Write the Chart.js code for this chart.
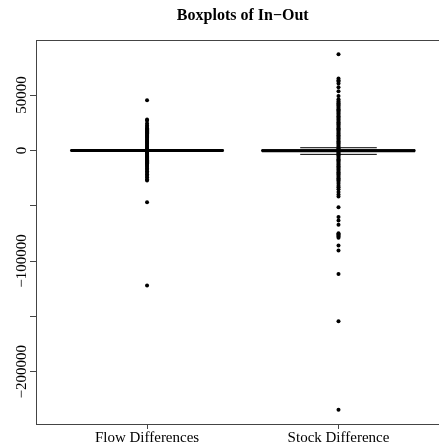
<!DOCTYPE html>
<html>
<head>
<meta charset="utf-8">
<script src="https://cdn.jsdelivr.net/npm/chart.js@4.4.0/dist/chart.umd.min.js"></script>
<style>
  body { margin: 0; background: #fff; }
  #grafico { display: block; }
</style>
</head>
<body>
<canvas id="grafico" width="439" height="444"></canvas>
<script>
const categorias = ['Flow Differences', 'Stock Difference'];

// estatisticas das caixas
const bigodeInferior = [-500, -3600];
const quartil1 = [-150, -900];
const mediana = [0, -300];
const quartil3 = [150, 600];
const bigodeSuperior = [500, 2400];

// pontos individuais de cada grupo
const pontosFlow = [45300, 28000, 26800, 24400, 22600, 21100, 20100, 19200, 18200, 17300, 16300,
  15400, 14400, 13500, 12500, 11600, 10600, 9700, 8700, 7800, 6800, 5900, 4900, 4000, 3100, 2200,
  1300, 700, -100, -800, -1400, -2200, -3100, -3900, -4800, -5600, -6500, -7300, -8200, -9000,
  -9900, -10700, -11600, -12400, -13300, -14100, -15000, -16300, -17500, -18900, -20300, -21600,
  -23000, -24200, -26000, -27200, -46800, -122200];

const pontosStock = [86900, 64900, 63400, 62300, 60500, 57000, 53400, 49200, 46200, 44700, 43700,
  42600, 41500, 40500, 39400, 38300, 37200, 36200, 35100, 34000, 33000, 31900, 30800, 29700, 28700,
  27600, 26500, 25500, 24400, 23300, 22200, 21200, 20100, 19000, 18000, 16900, 15800, 14700, 13700,
  12600, 11500, 10500, 9400, 8300, 7200, 6200, 5100, 4000, 3000, 1900, 1000, 200, -600, -1300,
  -2100, -2900, -3900, -4700, -5800, -6900, -7900, -9000, -10100, -11200, -12200, -13300, -14400,
  -15400, -16500, -17600, -18700, -19700, -20800, -21900, -22900, -24000, -25100, -26200, -27200,
  -28500, -30200, -32000, -33300, -35100, -37700, -39800, -41600, -51300, -60300, -63300, -67300,
  -74800, -75800, -77000, -77800, -79000, -86000, -90500, -111600, -154500, -234400];

const pontos = [pontosFlow, pontosStock];

const yTicks = [50000, 0, -50000, -100000, -150000, -200000];
const yTickLabels = ['50000', '0', '', '\u2212100000', '', '\u2212200000'];

const fonte = "'Liberation Serif', 'DejaVu Serif', serif";

function linha(coords, largura, tracejado) {
    return {
        type: 'scatter',
        data: coords.map(c => ({ x: c[0], y: c[1] })),
        showLine: true,
        borderColor: '#000',
        borderWidth: largura,
        borderDash: tracejado || [],
        pointRadius: 0,
        fill: false
    };
}

function montarDatasets() {
    const datasets = [];
    categorias.forEach((nome, i) => {
        const x = i + 1;
        // pontos
        datasets.push({
            type: 'scatter',
            data: pontos[i].map(v => ({ x: x, y: v })),
            pointRadius: 2,
            pointBorderWidth: 0,
            pointBackgroundColor: '#000',
            borderColor: '#000'
        });
        // caixa
        datasets.push(linha([[x - 0.4, quartil1[i]], [x + 0.4, quartil1[i]], [x + 0.4, quartil3[i]],
            [x - 0.4, quartil3[i]], [x - 0.4, quartil1[i]]], 1));
        // bigodes
        datasets.push(linha([[x, quartil3[i]], [x, bigodeSuperior[i]]], 1, [4, 3]));
        datasets.push(linha([[x, quartil1[i]], [x, bigodeInferior[i]]], 1, [4, 3]));
        // hastes
        datasets.push(linha([[x - 0.2, bigodeSuperior[i]], [x + 0.2, bigodeSuperior[i]]], 1));
        datasets.push(linha([[x - 0.2, bigodeInferior[i]], [x + 0.2, bigodeInferior[i]]], 1));
        // mediana
        datasets.push(linha([[x - 0.4, mediana[i]], [x + 0.4, mediana[i]]], 3));
    });
    return datasets;
}

const pluginMoldura = {
    id: 'moldura',
    afterDraw(chart) {
        const ctx = chart.ctx;
        const area = chart.chartArea;
        const escalaX = chart.scales.x;
        ctx.save();
        // moldura: topo e base vao ate a borda da figura
        ctx.strokeStyle = '#444';
        ctx.lineWidth = 1;
        ctx.beginPath();
        ctx.moveTo(area.left, area.top + 0.5);
        ctx.lineTo(chart.width, area.top + 0.5);
        ctx.moveTo(area.left, area.bottom + 0.5);
        ctx.lineTo(chart.width, area.bottom + 0.5);
        ctx.stroke();
        // titulo
        ctx.fillStyle = '#000';
        ctx.font = "bold 16px " + fonte;
        ctx.textAlign = 'center';
        ctx.textBaseline = 'middle';
        ctx.fillText('Boxplots of In\u2212Out', escalaX.getPixelForValue(1.5), 16);
        ctx.restore();
    }
};

new Chart(document.getElementById('grafico'), {
    type: 'scatter',
    data: { datasets: montarDatasets() },
    options: {
        responsive: false,
        animation: false,
        devicePixelRatio: 1,
        layout: { padding: { top: 40, left: 0, right: 0, bottom: 0 } },
        plugins: {
            legend: { display: false },
            tooltip: { enabled: false },
            title: { display: false }
        },
        scales: {
            x: {
                type: 'linear',
                min: 0.42,
                max: 2.504,
                afterBuildTicks: axis => { axis.ticks = [1, 2].map(v => ({ value: v })); },
                afterFit: axis => { axis.height = 20; },
                ticks: {
                    callback: v => categorias[v - 1] || '',
                    color: '#000',
                    font: { family: fonte, size: 15 },
                    padding: 0,
                    maxRotation: 0,
                    autoSkip: false
                },
                grid: { drawOnChartArea: false, tickLength: 5, color: '#444' },
                border: { color: '#444' }
            },
            y: {
                type: 'linear',
                min: -247250,
                max: 99750,
                afterBuildTicks: axis => { axis.ticks = yTicks.map(v => ({ value: v })); },
                // rotulos do eixo y na vertical, como no R
                afterCalculateLabelRotation: axis => { axis.labelRotation = 90; },
                afterFit: axis => { axis.width = 36; },
                ticks: {
                    callback: (v, i) => yTickLabels[i],
                    color: '#000',
                    font: { family: fonte, size: 15 },
                    crossAlign: 'center',
                    padding: -19,
                    autoSkip: false
                },
                grid: { drawOnChartArea: false, tickLength: 6, color: '#444' },
                border: { color: '#444' }
            }
        }
    },
    plugins: [pluginMoldura]
});
</script>
</body>
</html>
